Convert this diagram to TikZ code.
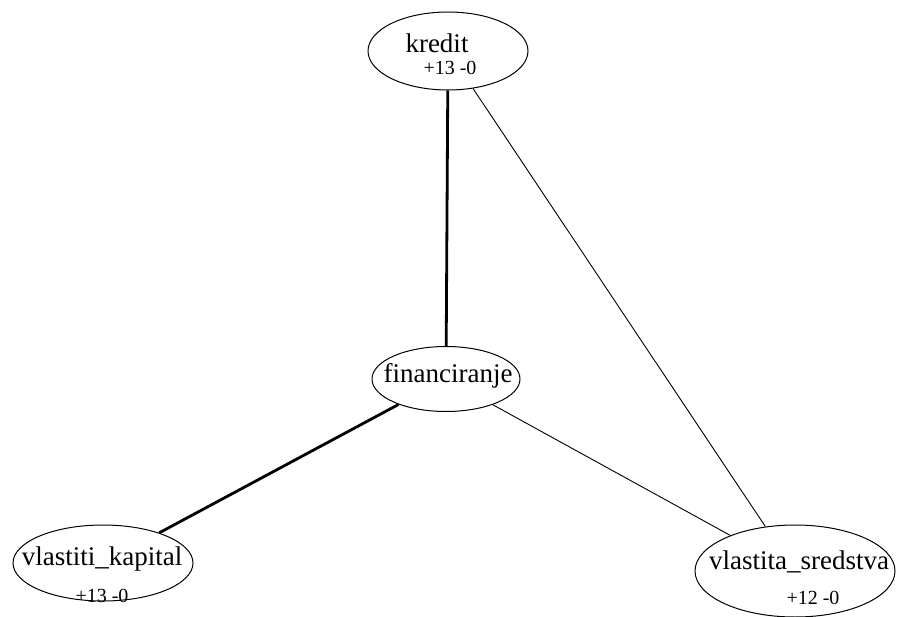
\documentclass[tikz,border=0pt]{standalone}
\usepackage{fontspec}
\setmainfont{Liberation Serif}
\usetikzlibrary{shapes.geometric}
\begin{document}
\begin{tikzpicture}[x=1pt,y=-1pt,
  ell/.style={draw,ellipse,line width=1pt,inner sep=0pt},
  lbl/.style={inner sep=0pt,font=\fontsize{27}{27}\selectfont},
  cnt/.style={inner sep=0pt,font=\fontsize{20}{20}\selectfont},
  thin edge/.style={line width=0.9pt},
  thick edge/.style={line width=2.8pt}]
\useasboundingbox (0,0) rectangle (899,617);
\node[ell,minimum width=160pt,minimum height=78pt] (kredit) at (448,51) {};
\node[ell,minimum width=148pt,minimum height=65pt] (fin) at (446,379) {};
\node[ell,minimum width=180pt,minimum height=76pt] (vk) at (103,563) {};
\node[ell,minimum width=200pt,minimum height=92pt] (vs) at (795,571) {};
\node[lbl] (tk) at (437,43) {kredit};
\node[cnt] (ck) at (450,68) {+13 -0};
\node[lbl] (tf) at (448,376) {financiranje};
\node[lbl] (tvk) at (102,559) {vlastiti\_kapital};
\node[cnt] (cvk) at (102,596) {+13 -0};
\node[lbl] (tvs) at (799,562) {vlastita\_sredstva};
\node[cnt] (cvs) at (813,598) {+12 -0};
\draw[thick edge] (kredit) -- (fin);
\draw[thick edge] (fin) -- (vk);
\draw[thin edge] (kredit) -- (vs);
\draw[thin edge] (fin) -- (vs);
\end{tikzpicture}
\end{document}
